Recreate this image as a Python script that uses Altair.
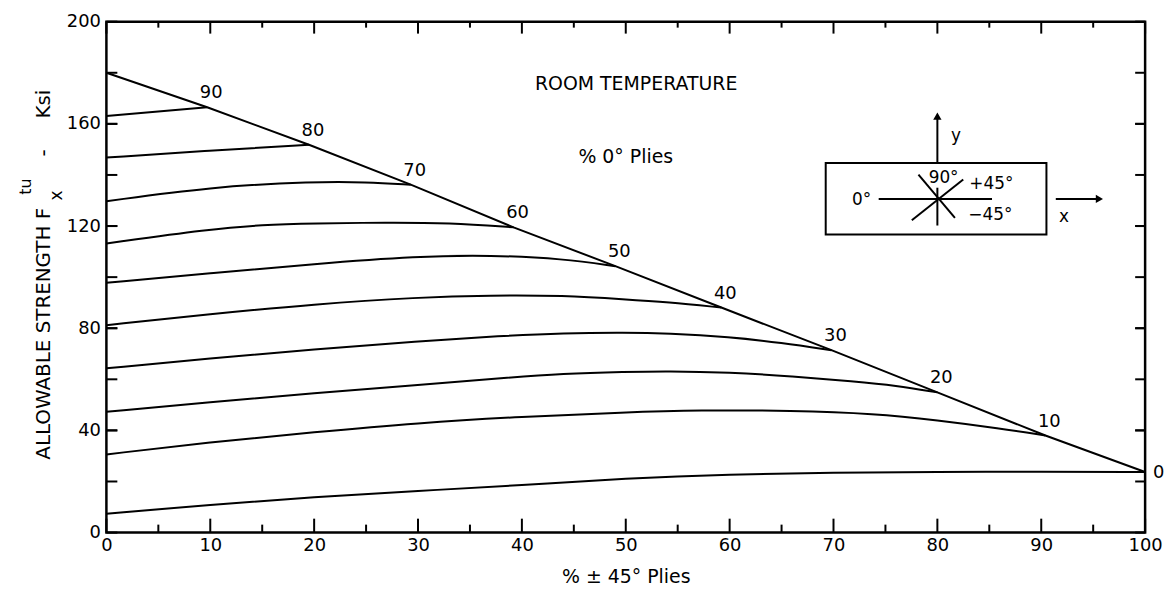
import altair as alt
import pandas as pd

# ---------------- data ----------------
pct_labels = [90, 80, 70, 60, 50, 40, 30, 20, 10, 0]

x_90 = [0, 9.7]
y_90 = [163.1, 166.5]
x_80 = [0, 10, 19.5]
y_80 = [146.8, 149.6, 151.8]
x_70 = [0, 10, 20, 25, 29.3]
y_70 = [129.7, 135.3, 137.4, 137.2, 136.2]
x_60 = [0, 10, 15, 20, 27, 33, 39.2]
y_60 = [113.2, 118.8, 120.5, 121.0, 121.4, 121.2, 119.5]
x_50 = [0, 10, 20, 30, 37, 44, 49]
y_50 = [97.8, 101.5, 105.2, 108.2, 108.6, 107.2, 104.3]
x_40 = [0, 10, 20, 30, 37, 44, 50, 54, 59.2]
y_40 = [81.2, 85.5, 89.4, 92.1, 92.9, 92.8, 91.3, 90.2, 88.1]
x_30 = [0, 10, 20, 30, 38, 44, 50, 54, 60, 65, 69.8]
y_30 = [64.3, 68.2, 71.8, 74.8, 77.0, 78.1, 78.3, 78.0, 76.6, 74.3, 71.4]
x_20 = [0, 10, 20, 30, 38, 44, 50, 54, 60, 66, 72, 76, 80]
y_20 = [47.3, 51.0, 54.6, 57.8, 60.5, 62.2, 62.9, 63.2, 62.7, 61.2, 59.2, 57.6, 54.9]
x_10 = [0, 10, 20, 30, 40, 50, 57, 66, 74, 80, 86, 90.4]
y_10 = [30.6, 35.4, 39.3, 42.9, 45.4, 47.1, 47.9, 47.8, 46.6, 44.0, 40.8, 38.0]
x_0 = [0, 10, 20, 30, 40, 50, 60, 70, 80, 90, 100]
y_0 = [7.4, 10.9, 13.9, 16.3, 18.6, 21.2, 22.8, 23.5, 23.8, 23.8, 23.7]

# envelope (diagonal) line
x_env = [0, 9.7, 19.5, 29.3, 39.2, 49, 59.2, 69.8, 80, 90.4, 100]
y_env = [180, 166.5, 151.8, 136.2, 119.5, 104.3, 88.1, 71.4, 54.9, 38.0, 23.7]

x_tick_values = list(range(0, 101, 10))
x_minor_values = list(range(5, 100, 10))
y_tick_values = [0, 40, 80, 120, 160, 200]
y_minor_values = list(range(20, 200, 20))

FONT = "DejaVu Sans"
W, H = 1045, 514

curves_x = [x_90, x_80, x_70, x_60, x_50, x_40, x_30, x_20, x_10, x_0]
curves_y = [y_90, y_80, y_70, y_60, y_50, y_40, y_30, y_20, y_10, y_0]

rows = []
for p, xs_, ys_ in zip(pct_labels, curves_x, curves_y):
    for xv, yv in zip(xs_, ys_):
        rows.append({"pct": p, "x": xv, "y": yv})
df = pd.DataFrame(rows)
df_env = pd.DataFrame({"x": x_env, "y": y_env})
ends = pd.DataFrame(
    [{"pct": p, "x": a[-1], "y": b[-1], "label": str(p)}
     for p, a, b in zip(pct_labels, curves_x, curves_y)]
)
ends_main = ends[ends["pct"] != 0]
ends_zero = ends[ends["pct"] == 0]

xs = alt.Scale(domain=[0, 100], nice=False, zero=False)
ys = alt.Scale(domain=[0, 200], nice=False, zero=False)

X = alt.X("x:Q", scale=xs,
          axis=alt.Axis(values=x_tick_values, title="% ± 45° Plies", grid=False,
                        ticks=False, domain=False, labelFont=FONT, labelFontSize=18,
                        labelColor="black", labelPadding=4, titleFont=FONT,
                        titleFontSize=19, titleFontWeight="normal", titleColor="black",
                        titlePadding=13, labelFlush=False))
Y = alt.Y("y:Q", scale=ys,
          axis=alt.Axis(values=y_tick_values, title=None, grid=False, ticks=False,
                        domain=False, labelFont=FONT, labelFontSize=18,
                        labelColor="black", labelPadding=6, labelFlush=False))

curves = alt.Chart(df).mark_line(interpolate="basis", color="black", strokeWidth=2).encode(
    x=X, y=Y, detail="pct:N", order="x:Q")
env = alt.Chart(df_env).mark_line(color="black", strokeWidth=2).encode(
    x=alt.X("x:Q", scale=xs), y=alt.Y("y:Q", scale=ys), order="x:Q")

lab_main = alt.Chart(ends_main).mark_text(font=FONT, fontSize=18, color="black",
                                          dx=4, dy=-14, align="center").encode(
    x=alt.X("x:Q", scale=xs), y=alt.Y("y:Q", scale=ys), text="label:N")
lab_zero = alt.Chart(ends_zero).mark_text(font=FONT, fontSize=18, color="black",
                                          dx=8, dy=1, align="left").encode(
    x=alt.X("x:Q", scale=xs), y=alt.Y("y:Q", scale=ys), text="label:N")

# ---------------- inside tick marks ----------------
def xticks(vals, y0, y1):
    return alt.Chart(pd.DataFrame({"t": vals})).mark_rule(color="black", strokeWidth=2).encode(
        x=alt.X("t:Q", scale=xs), y=alt.value(y0), y2=alt.value(y1))

def yticks(vals, x0, x1):
    return alt.Chart(pd.DataFrame({"t": vals})).mark_rule(color="black", strokeWidth=2).encode(
        y=alt.Y("t:Q", scale=ys), x=alt.value(x0), x2=alt.value(x1))

ticks = [
    xticks(x_tick_values, H, H - 14),
    xticks(x_minor_values, H, H - 8),
    xticks(x_tick_values, 0, 12),
    xticks(x_minor_values, 0, 6),
    yticks(y_minor_values + y_tick_values, 0, 11),
    yticks(y_minor_values + y_tick_values, W, W - 10),
]

# ---------------- annotations ----------------
big_notes = pd.DataFrame([
    {"x": 51.0, "y": 175.6, "t": "ROOM TEMPERATURE"},
    {"x": 50.0, "y": 147.0, "t": "% 0° Plies"},
])
big_layer = alt.Chart(big_notes).mark_text(font=FONT, fontSize=19, color="black").encode(
    x=alt.X("x:Q", scale=xs), y=alt.Y("y:Q", scale=ys), text="t:N")

notes = pd.DataFrame([
    {"x": 72.7, "y": 130.0, "t": "0°"},
    {"x": 80.6, "y": 138.9, "t": "90°"},
    {"x": 85.2, "y": 136.6, "t": "+45°"},
    {"x": 85.1, "y": 124.3, "t": "−45°"},
    {"x": 81.8, "y": 155.3, "t": "y"},
    {"x": 92.2, "y": 123.7, "t": "x"},
])
note_layer = alt.Chart(notes).mark_text(font=FONT, fontSize=17, color="black").encode(
    x=alt.X("x:Q", scale=xs), y=alt.Y("y:Q", scale=ys), text="t:N")

box = alt.Chart(pd.DataFrame([{"x": 69.25, "x2": 90.5, "y": 116.7, "y2": 144.7}])).mark_rect(
    fill="white", fillOpacity=0, stroke="black", strokeWidth=2).encode(
    x=alt.X("x:Q", scale=xs), x2="x2:Q", y=alt.Y("y:Q", scale=ys), y2="y2:Q")

segs = pd.DataFrame([
    {"x": 74.35, "x2": 85.26, "y": 130.6, "y2": 130.6},
    {"x": 80.0, "x2": 80.0, "y": 120.2, "y2": 135.0},
    {"x": 77.54, "x2": 82.49, "y": 122.3, "y2": 138.2},
    {"x": 78.18, "x2": 81.69, "y": 140.1, "y2": 123.2},
    {"x": 80.0, "x2": 80.0, "y": 145.0, "y2": 163.5},
    {"x": 91.4, "x2": 95.5, "y": 130.6, "y2": 130.6},
])
seg_layer = alt.Chart(segs).mark_rule(color="black", strokeWidth=2).encode(
    x=alt.X("x:Q", scale=xs), x2="x2:Q", y=alt.Y("y:Q", scale=ys), y2="y2:Q")

heads_up = alt.Chart(pd.DataFrame([{"x": 80.0, "y": 163.0}])).mark_point(
    shape="triangle-up", filled=True, color="black", size=70, opacity=1).encode(
    x=alt.X("x:Q", scale=xs), y=alt.Y("y:Q", scale=ys))
heads_right = alt.Chart(pd.DataFrame([{"x": 95.6, "y": 130.6}])).mark_point(
    shape="triangle-right", filled=True, color="black", size=70, opacity=1).encode(
    x=alt.X("x:Q", scale=xs), y=alt.Y("y:Q", scale=ys))

# ---------------- y axis title pieces ----------------
def ytitle(txt, px, py, size):
    return alt.Chart(pd.DataFrame({"a": [0]})).mark_text(
        text=txt, font=FONT, fontSize=size, color="black", angle=270,
        align="center", baseline="middle").encode(x=alt.value(px), y=alt.value(py))

ytitles = [
    ytitle("ALLOWABLE STRENGTH F", -63, 314, 20),
    ytitle("x", -50, 175, 17),
    ytitle("tu", -81, 166, 16),
    ytitle("-", -63, 132, 20),
    ytitle("Ksi", -63, 83, 20),
]

chart = alt.layer(
    curves, env, lab_main, lab_zero, *ticks, box, seg_layer, heads_up, heads_right,
    big_layer, note_layer, *ytitles
).properties(
    width=W, height=H,
    autosize=alt.AutoSizeParams(type="none"),
    padding={"left": 99, "top": 12, "right": 19, "bottom": 55},
    background="white",
).configure_view(stroke="black", strokeWidth=2.5)

chart.save("out.html", embed_options={"renderer": "svg", "actions": False})
